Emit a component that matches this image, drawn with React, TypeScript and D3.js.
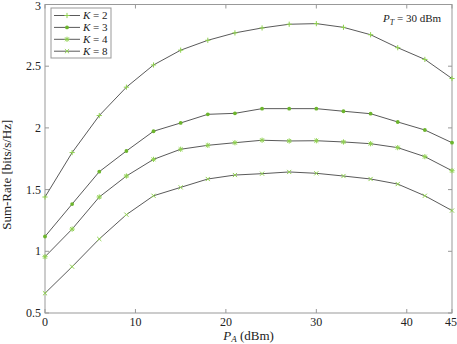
import { useEffect, useRef } from 'react';
import * as d3 from 'd3';

const powerA = [0, 3, 6, 9, 12, 15, 18, 21, 24, 27, 30, 33, 36, 39, 42, 45];
const rateK2 = [1.44, 1.80, 2.10, 2.33, 2.51, 2.63, 2.71, 2.77, 2.81, 2.84, 2.845, 2.815, 2.755, 2.65, 2.555, 2.40];
const rateK3 = [1.12, 1.383, 1.645, 1.813, 1.973, 2.04, 2.11, 2.118, 2.156, 2.156, 2.156, 2.135, 2.115, 2.048, 1.983, 1.88];
const rateK4 = [0.956, 1.18, 1.44, 1.61, 1.745, 1.827, 1.859, 1.88, 1.90, 1.894, 1.896, 1.886, 1.872, 1.84, 1.767, 1.653];
const rateK8 = [0.66, 0.875, 1.10, 1.297, 1.45, 1.518, 1.586, 1.618, 1.629, 1.643, 1.632, 1.61, 1.586, 1.545, 1.45, 1.33];
const seriesLabels = ['2', '3', '4', '8'];
const markerKinds = ['plus', 'dot', 'star', 'cross'];
const xTicks = [0, 10, 20, 30, 40, 45];
const yTicks = [0.5, 1, 1.5, 2, 2.5, 3];

export default function App() {
  const svgRef = useRef<SVGSVGElement>(null);

  useEffect(() => {
    const width = 457;
    const height = 344;
    const left = 45, right = 452, top = 4.5, bottom = 313;
    const font = '"Liberation Serif", "DejaVu Serif", serif';
    const green = '#8fd14f';
    const lineColor = '#5a5a5a';

    const svg = d3.select(svgRef.current)
      .attr('width', width)
      .attr('height', height);
    svg.selectAll('*').remove();

    const x = d3.scaleLinear().domain([0, 45]).range([left, right]);
    const y = d3.scaleLinear().domain([0.5, 3]).range([bottom, top]);

    const allSeries = [rateK2, rateK3, rateK4, rateK8];

    const drawMarker = (g: any, kind: string, cx: number, cy: number) => {
      const s = 2.6;
      if (kind === 'plus') {
        g.append('path').attr('d', `M${cx - s},${cy}H${cx + s}M${cx},${cy - s}V${cy + s}`)
          .attr('stroke', green).attr('stroke-width', 1);
      } else if (kind === 'dot') {
        g.append('circle').attr('cx', cx).attr('cy', cy).attr('r', 1.9).attr('fill', '#6cb52d');
      } else if (kind === 'star') {
        const d = s * 0.75;
        g.append('path').attr('d', `M${cx - s},${cy}H${cx + s}M${cx},${cy - s}V${cy + s}M${cx - d},${cy - d}L${cx + d},${cy + d}M${cx - d},${cy + d}L${cx + d},${cy - d}`)
          .attr('stroke', green).attr('stroke-width', 1);
      } else {
        const d = s * 0.8;
        g.append('path').attr('d', `M${cx - d},${cy - d}L${cx + d},${cy + d}M${cx - d},${cy + d}L${cx + d},${cy - d}`)
          .attr('stroke', green).attr('stroke-width', 1);
      }
    };

    // axes box
    svg.append('rect')
      .attr('x', left).attr('y', top)
      .attr('width', right - left).attr('height', bottom - top)
      .attr('fill', 'white').attr('stroke', '#999').attr('stroke-width', 1);

    // ticks (inside, on all four sides)
    const tickLen = 4;
    xTicks.forEach(t => {
      svg.append('line').attr('x1', x(t)).attr('x2', x(t)).attr('y1', bottom).attr('y2', bottom - tickLen).attr('stroke', '#999');
      svg.append('line').attr('x1', x(t)).attr('x2', x(t)).attr('y1', top).attr('y2', top + tickLen).attr('stroke', '#999');
      svg.append('text').attr('x', t === 45 ? x(t) - 1 : x(t)).attr('y', bottom + 13)
        .attr('text-anchor', 'middle').attr('font-family', font).attr('font-size', 12).attr('fill', '#222')
        .text(t);
    });
    yTicks.forEach(t => {
      svg.append('line').attr('x1', left).attr('x2', left + tickLen).attr('y1', y(t)).attr('y2', y(t)).attr('stroke', '#999');
      svg.append('line').attr('x1', right).attr('x2', right - tickLen).attr('y1', y(t)).attr('y2', y(t)).attr('stroke', '#999');
      svg.append('text').attr('x', left - 4).attr('y', t === 3 ? y(t) + 5 : y(t) + 4)
        .attr('text-anchor', 'end').attr('font-family', font).attr('font-size', 12).attr('fill', '#222')
        .text(t);
    });

    const line = d3.line<number>()
      .x((d, i) => x(powerA[i]))
      .y(d => y(d));

    allSeries.forEach((vals, si) => {
      const g = svg.append('g');
      g.append('path').datum(vals)
        .attr('d', line)
        .attr('fill', 'none').attr('stroke', lineColor).attr('stroke-width', 1);
      vals.forEach((v, i) => drawMarker(g, markerKinds[si], x(powerA[i]), y(v)));
    });

    // legend
    const legend = svg.append('g');
    legend.append('rect').attr('x', 51).attr('y', 8).attr('width', 60).attr('height', 50)
      .attr('fill', 'white').attr('stroke', '#999');
    seriesLabels.forEach((k, i) => {
      const ly = 15.5 + i * 11.9;
      legend.append('line').attr('x1', 54).attr('x2', 80).attr('y1', ly).attr('y2', ly)
        .attr('stroke', lineColor).attr('stroke-width', 1);
      drawMarker(legend, markerKinds[i], 67, ly);
      const t = legend.append('text').attr('x', 83).attr('y', ly + 3.5)
        .attr('font-family', font).attr('font-size', 11).attr('fill', '#222');
      t.append('tspan').attr('font-style', 'italic').text('K');
      t.append('tspan').text(` = ${k}`);
    });

    // annotation
    const ann = svg.append('text').attr('x', 383).attr('y', 22)
      .attr('font-family', font).attr('font-size', 11).attr('fill', '#222');
    ann.append('tspan').attr('font-style', 'italic').text('P');
    ann.append('tspan').attr('font-style', 'italic').attr('font-size', 8).attr('dy', 2.5).text('T');
    ann.append('tspan').attr('dy', -2.5).text(' = 30 dBm');

    // x label
    const xl = svg.append('text').attr('x', (left + right) / 2).attr('y', 340)
      .attr('text-anchor', 'middle').attr('font-family', font).attr('font-size', 13).attr('fill', '#222');
    xl.append('tspan').attr('font-style', 'italic').text('P');
    xl.append('tspan').attr('font-style', 'italic').attr('font-size', 9).attr('dy', 2).text('A');
    xl.append('tspan').attr('dy', -2).text(' (dBm)');

    // y label
    svg.append('text')
      .attr('transform', `translate(11,${(top + bottom) / 2 + 16}) rotate(-90)`)
      .attr('text-anchor', 'middle').attr('font-family', font).attr('font-size', 13).attr('fill', '#222')
      .text('Sum-Rate [bits/s/Hz]');
  }, []);

  return (
    <div style={{ position: 'fixed', left: 0, top: 0, width: 457, height: 344, overflow: 'hidden', background: 'white' }}>
      <svg ref={svgRef} style={{ display: 'block' }}></svg>
    </div>
  );
}
